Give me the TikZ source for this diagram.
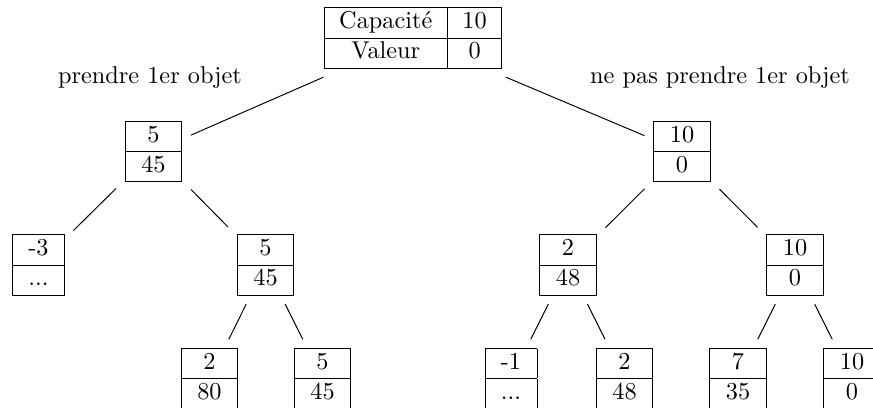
\documentclass[tikz,border=0pt]{standalone}
\usepackage{array}
\newcolumntype{N}{|w{c}{11pt}|}
\newcolumntype{M}{|w{c}{9pt}|}
\newcommand{\cellbox}[2]{\begin{tabular}{N}\hline #1\\\hline #2\\\hline\end{tabular}}
\newcommand{\cellboxs}[2]{\begin{tabular}{M}\hline #1\\\hline #2\\\hline\end{tabular}}
\begin{document}
\begin{tikzpicture}[x=0.4115pt, y=-0.4115pt,
    state/.style={inner sep=0.333em, anchor=center},
    branchlabel/.style={inner sep=0pt, anchor=center}]
  \clip (0,0) rectangle (873,408);
  % root
  \node[state] (root) at (413,38)
    {\begin{tabular}{|c|c|}\hline Capacité & 10\\\hline Valeur & 0\\\hline\end{tabular}};
  % first level
  \node[state] (l) at (153.5,151.5) {\cellbox{5}{45}};
  \node[state] (r) at (682,151.5) {\cellbox{10}{0}};
  % second level
  \node[state] (ll) at (38.5,265) {\cellboxs{-3}{...}};
  \node[state] (lr) at (265.5,265) {\cellbox{5}{45}};
  \node[state] (rl) at (568,265) {\cellbox{2}{48}};
  \node[state] (rr) at (795,265) {\cellbox{10}{0}};
  % third level
  \node[state] (lrl) at (209.5,378.5) {\cellbox{2}{80}};
  \node[state] (lrr) at (322.5,378.5) {\cellbox{5}{45}};
  \node[state] (rll) at (511,378.5) {\cellboxs{-1}{...}};
  \node[state] (rlr) at (624.5,378.5) {\cellbox{2}{48}};
  \node[state] (rrl) at (738,378.5) {\cellbox{7}{35}};
  \node[state] (rrr) at (852,378.5) {\cellbox{10}{0}};
  % branch labels
  \node[branchlabel] (take) at (150,78) {prendre 1er objet};
  \node[branchlabel] (skip) at (720,78) {ne pas prendre 1er objet};
  % edges
  \draw (root) -- (l);
  \draw (root) -- (r);
  \draw (l) -- (ll);
  \draw (l) -- (lr);
  \draw (r) -- (rl);
  \draw (r) -- (rr);
  \draw (lr) -- (lrl);
  \draw (lr) -- (lrr);
  \draw (rl) -- (rll);
  \draw (rl) -- (rlr);
  \draw (rr) -- (rrl);
  \draw (rr) -- (rrr);
\end{tikzpicture}
\end{document}
